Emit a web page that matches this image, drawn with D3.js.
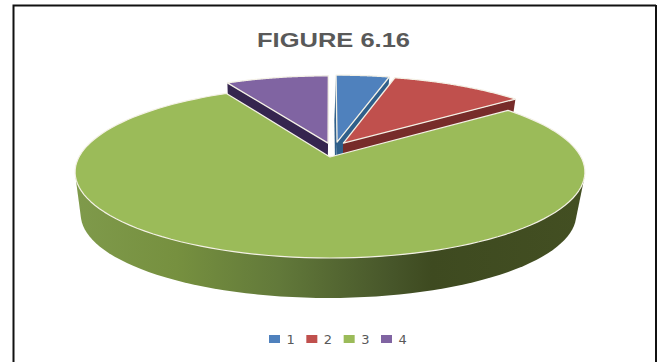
<!DOCTYPE html>
<html>
<head>
<meta charset="utf-8">
<script src="https://cdn.jsdelivr.net/npm/d3@7/dist/d3.min.js"></script>
<style>html,body{margin:0;padding:0;background:#fff;overflow:hidden}svg{display:block}</style>
</head>
<body>
<svg id="chart" width="657" height="362"></svg>
<script>
const categories = ["1", "2", "3", "4"];
const values = [4.1, 10.3, 77.8, 7.9];
const title = "FIGURE 6.16";
const topColors = ["#4f81bd", "#c0504d", "#9bbb59", "#8064a2"];
const sideColors = ["#2f5f8a", "#772c2a", "#5f7530", "#35254f"];
// Slice pull-out in pie (disk) units
const explodeU = [0.029, 0.055, 0, -0.008];
const explodeV = [-0.185, -0.172, 0, -0.172];

const svg = d3.select("#chart");
const W = 657, H = 362;
const cx = 330, cy = 157, A = 251, B = 83.4, K = 0.1744;
const depth = 42.8, floorScale = 0.972, floorShift = -1.5;

const project = (u, v, floor) => {
  const s = floor ? floorScale : 1, w = 1 - K * v;
  return [cx + (floor ? floorShift : 0) + s * A * u / w, cy + (floor ? depth : 0) + s * B * v / w];
};
const line = d3.line();
const pie = d3.pie().sort(null).startAngle(0).endAngle(2 * Math.PI);
const arcs = pie(values);

const rim = (d, i, floor) => d3.range(0, 121).map(t => {
  const a = d.startAngle + (d.endAngle - d.startAngle) * t / 120;
  return project(Math.sin(a) + explodeU[i], -Math.cos(a) + explodeV[i], floor);
});
const apex = (i, floor) => project(explodeU[i], explodeV[i], floor);

const defs = svg.append("defs");
const grad = defs.append("linearGradient").attr("id", "greenSide")
  .attr("gradientUnits", "userSpaceOnUse")
  .attr("x1", 75).attr("x2", 585).attr("y1", 0).attr("y2", 0);
[[0, "#7f9a4b"], [0.2, "#76903f"], [0.4, "#62793a"], [0.62, "#47562a"], [0.7, "#3e4a20"], [1, "#434f22"]]
  .forEach(([o, c]) => grad.append("stop").attr("offset", o).attr("stop-color", c));

// Frame
svg.append("path").attr("d", `M13.5,${H}V5.5H656`).attr("fill", "none").attr("stroke", "#111").attr("stroke-width", 2);
svg.append("line").attr("x1", 656).attr("x2", 656).attr("y1", 5).attr("y2", H).attr("stroke", "#111").attr("stroke-width", 2);

svg.append("text").attr("x", 333.5).attr("y", 47).attr("text-anchor", "middle")
  .attr("font-family", "'Liberation Sans', sans-serif").attr("font-weight", 700).attr("font-size", 21)
  .attr("textLength", 153).attr("lengthAdjust", "spacingAndGlyphs").attr("fill", "#595959").text(title);

const wedge = (d, i) => line([apex(i, false), ...rim(d, i, false)]) + "Z";

// Cut faces of the pulled-out slices
const face = (a, b, fill) => svg.append("path")
  .attr("d", line([a[0], a[1], b[1], b[0]]) + "Z").attr("fill", fill);

[3, 0, 1].forEach(i => {
  const d = arcs[i], rt = rim(d, i, false), rf = rim(d, i, true);
  const at = apex(i, false), af = apex(i, true);
  face([at, rt[0]], [af, rf[0]], sideColors[i]);
  face([at, rt[120]], [af, rf[120]], sideColors[i]);
  svg.append("path").attr("d", wedge(d, i)).attr("fill", topColors[i])
    .attr("stroke", "#f4f1e6").attr("stroke-width", 1.3).attr("stroke-linejoin", "round");
});

// Green slice: front wall is the hull of the front rim, top and floor, then the top face
const g = arcs[2];
const gTop = rim(g, 2, false), gFloor = rim(g, 2, true);
const frontY = 172;
const wallHull = d3.polygonHull([...gTop, ...gFloor].filter(p => p[1] >= frontY));
svg.append("path").attr("d", line(wallHull) + "Z").attr("fill", "url(#greenSide)");
svg.append("path").attr("d", wedge(g, 2)).attr("fill", topColors[2])
  .attr("stroke", "#f4f1e6").attr("stroke-width", 1.2).attr("stroke-linejoin", "round");

// Legend
const legendX = d3.scalePoint().domain(categories).range([269, 381]);
const item = svg.append("g").selectAll("g").data(categories).join("g")
  .attr("transform", d => `translate(${legendX(d)},335)`);
item.append("rect").attr("width", 11).attr("height", 8).attr("fill", (d, i) => topColors[i]);
item.append("text").attr("x", 17.5).attr("y", 9)
  .attr("font-family", "'DejaVu Sans', sans-serif").attr("font-size", 13).attr("fill", "#595959").text(d => d);
</script>
</body>
</html>
